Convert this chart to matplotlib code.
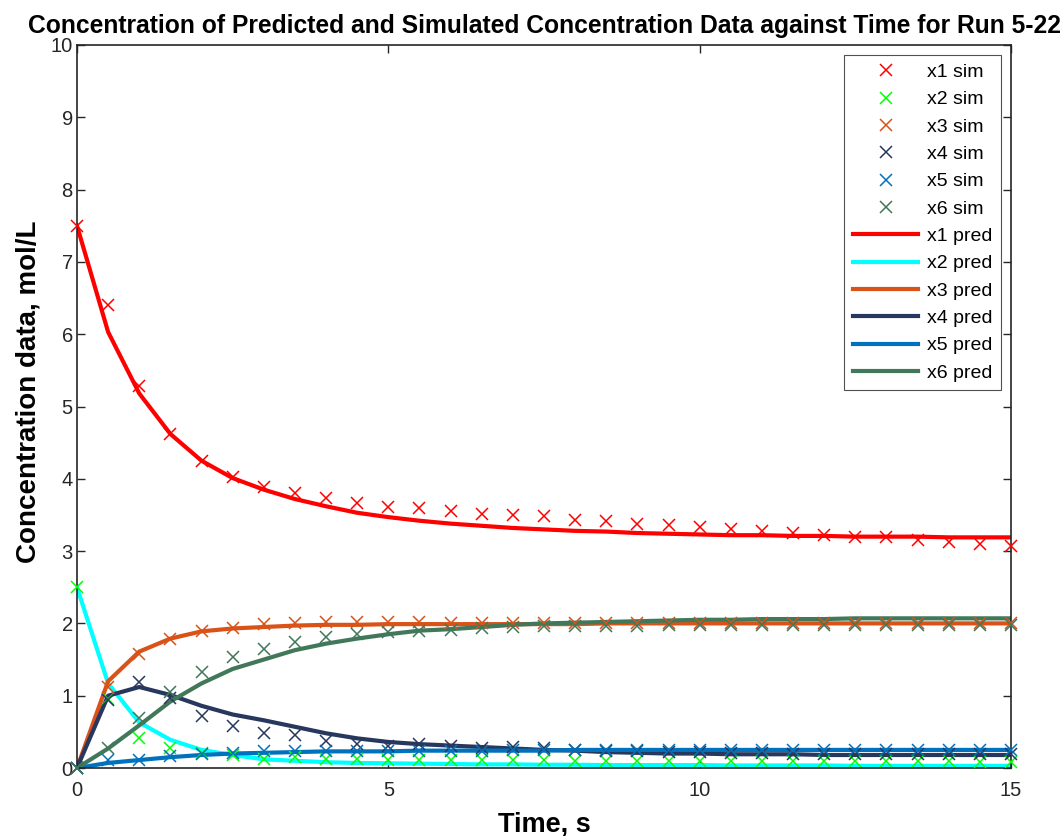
import matplotlib
matplotlib.use("Agg")
import matplotlib.pyplot as plt
import numpy as np

plt.rcParams['font.family'] = ['Liberation Sans', 'DejaVu Sans']

# Time points (s)
time = [0, 0.5, 1, 1.5, 2, 2.5, 3, 3.5, 4, 4.5, 5, 5.5, 6, 6.5, 7, 7.5, 8,
        8.5, 9, 9.5, 10, 10.5, 11, 11.5, 12, 12.5, 13, 13.5, 14, 14.5, 15]

# Simulated concentrations (markers)
x1_sim = [7.50, 6.40, 5.28, 4.62, 4.24, 4.03, 3.89, 3.80, 3.73, 3.66, 3.61, 3.59,
          3.55, 3.52, 3.50, 3.48, 3.43, 3.41, 3.38, 3.36, 3.34, 3.31, 3.28, 3.25,
          3.22, 3.20, 3.19, 3.16, 3.13, 3.10, 3.07]
x2_sim = [2.50, 0.95, 0.42, 0.28, 0.21, 0.18, 0.12, 0.15, 0.13, 0.13, 0.11, 0.11,
          0.11, 0.11, 0.11, 0.11, 0.10, 0.10, 0.10, 0.10, 0.10, 0.10, 0.09, 0.09,
          0.09, 0.09, 0.09, 0.09, 0.09, 0.08, 0.08]
x3_sim = [0.00, 1.12, 1.58, 1.78, 1.90, 1.94, 1.99, 2.00, 2.02, 2.02, 2.02, 2.02,
          2.01, 2.01, 2.01, 2.01, 2.01, 2.01, 2.00, 2.00, 2.00, 2.00, 2.00, 2.00,
          2.00, 2.00, 2.00, 2.00, 2.00, 2.00, 2.00]
x4_sim = [0.00, 0.94, 1.19, 0.97, 0.72, 0.58, 0.49, 0.46, 0.37, 0.33, 0.30, 0.33,
          0.31, 0.27, 0.29, 0.27, 0.25, 0.23, 0.23, 0.22, 0.22, 0.21, 0.21, 0.20,
          0.20, 0.20, 0.20, 0.20, 0.20, 0.19, 0.19]
x5_sim = [0.00, 0.11, 0.11, 0.17, 0.20, 0.21, 0.23, 0.23, 0.23, 0.24, 0.24, 0.24,
          0.24, 0.24, 0.25, 0.25, 0.25, 0.25, 0.25, 0.25, 0.25, 0.25, 0.25, 0.25,
          0.25, 0.25, 0.25, 0.25, 0.25, 0.25, 0.25]
x6_sim = [0.00, 0.27, 0.69, 1.05, 1.33, 1.53, 1.64, 1.74, 1.81, 1.86, 1.88, 1.89,
          1.91, 1.93, 1.95, 1.96, 1.96, 1.97, 1.97, 1.98, 1.98, 1.98, 1.98, 1.98,
          1.98, 1.98, 1.98, 1.98, 1.98, 1.98, 1.98]

# Predicted concentrations (lines)
x1_pred = [7.50, 6.03, 5.18, 4.62, 4.25, 4.01, 3.85, 3.72, 3.62, 3.53, 3.47, 3.42,
           3.38, 3.35, 3.32, 3.30, 3.28, 3.27, 3.25, 3.24, 3.23, 3.22, 3.22, 3.21,
           3.21, 3.20, 3.20, 3.20, 3.19, 3.19, 3.19]
x2_pred = [2.50, 1.17, 0.63, 0.39, 0.25, 0.18, 0.12, 0.10, 0.08, 0.07, 0.065, 0.06,
           0.055, 0.05, 0.05, 0.045, 0.045, 0.04, 0.04, 0.04, 0.04, 0.035, 0.035, 0.035,
           0.035, 0.03, 0.03, 0.03, 0.03, 0.03, 0.03]
x3_pred = [0.00, 1.20, 1.61, 1.79, 1.89, 1.93, 1.95, 1.97, 1.98, 1.98, 1.99, 1.99,
           1.99, 1.99, 1.99, 1.99, 1.99, 2.00, 2.00, 2.00, 2.00, 2.00, 2.00, 2.00,
           2.00, 2.00, 2.00, 2.00, 2.00, 2.00, 2.00]
x4_pred = [0.00, 1.00, 1.12, 1.01, 0.86, 0.74, 0.66, 0.57, 0.48, 0.41, 0.36, 0.33,
           0.31, 0.29, 0.27, 0.25, 0.24, 0.22, 0.21, 0.20, 0.20, 0.19, 0.19, 0.19,
           0.18, 0.18, 0.18, 0.18, 0.18, 0.18, 0.18]
x5_pred = [0.00, 0.07, 0.11, 0.15, 0.18, 0.20, 0.21, 0.22, 0.23, 0.23, 0.23, 0.24,
           0.24, 0.24, 0.24, 0.24, 0.25, 0.25, 0.25, 0.25, 0.25, 0.25, 0.25, 0.25,
           0.25, 0.25, 0.25, 0.25, 0.25, 0.25, 0.25]
x6_pred = [0.00, 0.27, 0.59, 0.92, 1.17, 1.37, 1.50, 1.63, 1.72, 1.79, 1.85, 1.90,
           1.92, 1.95, 1.98, 2.00, 2.01, 2.02, 2.03, 2.04, 2.05, 2.05, 2.06, 2.06,
           2.06, 2.07, 2.07, 2.07, 2.07, 2.07, 2.07]

sim_labels = ['x1 sim', 'x2 sim', 'x3 sim', 'x4 sim', 'x5 sim', 'x6 sim']
pred_labels = ['x1 pred', 'x2 pred', 'x3 pred', 'x4 pred', 'x5 pred', 'x6 pred']
sim_colors = ['#FF0000', '#00FF00', '#D95319', '#27375E', '#0072BD', '#41785A']
pred_colors = ['#FF0000', '#00FFFF', '#D95319', '#27375E', '#0072BD', '#41785A']

x_ticks = [0, 5, 10, 15]
y_ticks = [0, 1, 2, 3, 4, 5, 6, 7, 8, 9, 10]

fig = plt.figure(figsize=(10.6, 8.36), dpi=100)
ax = fig.add_axes([77/1060, 1 - 768/836, (1011-77)/1060, (768-45)/836])

sims = [x1_sim, x2_sim, x3_sim, x4_sim, x5_sim, x6_sim]
preds = [x1_pred, x2_pred, x3_pred, x4_pred, x5_pred, x6_pred]

for data, c, lab in zip(sims, sim_colors, sim_labels):
    ax.plot(time, data, linestyle='none', marker='x', markersize=9,
            markeredgewidth=1.1, color=c, label=lab, clip_on=False, zorder=3)
for data, c, lab in zip(preds, pred_colors, pred_labels):
    ax.plot(time, data, linestyle='-', linewidth=3, color=c, label=lab, zorder=2)

ax.set_xlim(0, 15)
ax.set_ylim(0, 10)
ax.set_xticks(x_ticks)
ax.set_yticks(y_ticks)
ax.tick_params(direction='in', length=6, width=1, top=True, right=True,
               labelsize=14.5, colors='#262626')
ax.tick_params(axis='x', pad=9)
ax.tick_params(axis='y', pad=3)
for s in ax.spines.values():
    s.set_color('#262626')
    s.set_linewidth(1.2)

ax.set_xlabel('Time, s', fontsize=19.5, fontweight='bold', color='black', labelpad=9)
ax.set_ylabel('Concentration data, mol/L', fontsize=20, fontweight='bold',
              color='black')
ax.yaxis.set_label_coords(-0.038, 0.52)
ax.set_title('Concentration of Predicted and Simulated Concentration Data against Time for Run 5-22',
             fontsize=17.7, fontweight='bold', pad=9)

leg = ax.legend(loc='upper right', fontsize=14, frameon=True, fancybox=False,
                edgecolor='#262626', handlelength=3.35, labelspacing=0.5,
                borderaxespad=0.5, handletextpad=0.45, borderpad=0.45)
leg.get_frame().set_linewidth(0.8)

fig.savefig('out.png', dpi=100)
